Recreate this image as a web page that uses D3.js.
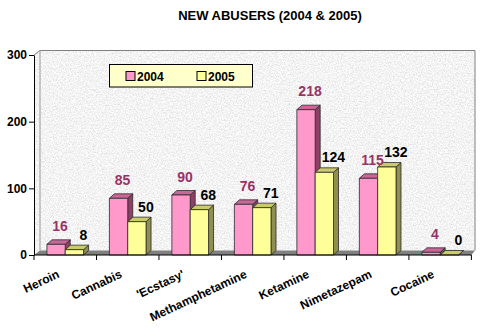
<!DOCTYPE html>
<html>
<head>
<meta charset="utf-8">
<script src="https://cdn.jsdelivr.net/npm/d3@7/dist/d3.min.js"></script>
<style>
  html, body { margin: 0; padding: 0; background: #fff; }
  svg { display: block; font-family: Arial, "Liberation Sans", sans-serif; }
</style>
</head>
<body>
<svg id="chart" width="485" height="329"></svg>
<script>
// Data: new abusers by drug, 2004 vs 2005
const categories = ["Heroin", "Cannabis", "'Ecstasy'", "Methamphetamine", "Ketamine", "Nimetazepam", "Cocaine"];
const series = ["2004", "2005"];
const values2004 = [16, 85, 90, 76, 218, 115, 4];
const values2005 = [8, 50, 68, 71, 124, 132, 0];
const yTicks = [0, 100, 200, 300];
const title = "NEW ABUSERS (2004 & 2005)";

const svg = d3.select("#chart");

// plot geometry
const pL = 34, pR = 471.4, pT = 55, pB = 255;
const wallDx = 6, wallDy = -4.5;   // depth of the back wall
const barDx = 5, barDy = -4.5;     // depth of each bar
const wallR = pR + 3.6;            // right edge of the back wall

const x = d3.scaleBand().domain(categories).range([pL, pR]).paddingInner(0).paddingOuter(0);
const xs = d3.scaleBand().domain(series).range([0, x.bandwidth()]).paddingInner(0).paddingOuter(0.705);
const y = d3.scaleLinear().domain([0, 300]).range([pB, pT]);

const colors = {
  "2004": { front: "#FF99CC", top: "#CC6699", side: "#8E3F66", label: "#993366" },
  "2005": { front: "#FFFF99", top: "#CCCC66", side: "#8F8F4F", label: "#000000" }
};

// granite texture for the walls
const defs = svg.append("defs");
const f = defs.append("filter").attr("id", "granite")
  .attr("x", 0).attr("y", 0).attr("width", "100%").attr("height", "100%");
f.append("feTurbulence").attr("type", "fractalNoise").attr("baseFrequency", 0.75)
  .attr("numOctaves", 3).attr("seed", 7).attr("result", "noise");
f.append("feColorMatrix").attr("in", "noise").attr("type", "matrix")
  .attr("values", "0.6 0 0 0 0.6  0.6 0 0 0 0.6  0.6 0 0 0 0.6  0 0 0 0 1")
  .attr("result", "grey");
f.append("feComposite").attr("in", "grey").attr("in2", "SourceGraphic").attr("operator", "in");

// title
svg.append("text").attr("x", 270).attr("y", 20).attr("text-anchor", "middle")
  .attr("font-size", 13).attr("font-weight", "bold").text(title);

// back wall
svg.append("rect")
  .attr("x", pL + wallDx).attr("y", pT + wallDy)
  .attr("width", wallR - pL - wallDx).attr("height", pB - pT)
  .attr("fill", "#ddd").attr("filter", "url(#granite)");
// left side wall
svg.append("path")
  .attr("d", `M${pL},${pT} L${pL + wallDx},${pT + wallDy} L${pL + wallDx},${pB + wallDy} L${pL},${pB} Z`)
  .attr("fill", "#ccc").attr("filter", "url(#granite)");
svg.append("path")
  .attr("d", `M${pL},${pT} L${pL + wallDx},${pT + wallDy} L${wallR},${pT + wallDy} L${wallR},${pB + wallDy}`)
  .attr("fill", "none").attr("stroke", "#808080").attr("stroke-width", 1);
svg.append("line")
  .attr("x1", pL + wallDx).attr("x2", pL + wallDx)
  .attr("y1", pT + wallDy).attr("y2", pB + wallDy)
  .attr("stroke", "#9a9a9a").attr("stroke-width", 1);
// floor
svg.append("path")
  .attr("d", `M${pL},${pB} L${pL + wallDx},${pB + wallDy} L${wallR},${pB + wallDy} L${pR},${pB} Z`)
  .attr("fill", "#808080");

// legend
const lg = svg.append("g");
lg.append("rect").attr("x", 109.5).attr("y", 64.5).attr("width", 143).attr("height", 22.5)
  .attr("fill", "#FFFFCC").attr("stroke", "#000").attr("stroke-width", 1);
series.forEach((s, i) => {
  const lx = 126 + i * 71;
  lg.append("rect").attr("x", lx).attr("y", 71.5).attr("width", 9).attr("height", 9)
    .attr("fill", colors[s].front).attr("stroke", "#000").attr("stroke-width", 1);
  lg.append("text").attr("x", lx + 11).attr("y", 81).attr("font-size", 12)
    .attr("font-weight", "bold").text(s);
});

// bars
const rows = categories.map((c, i) => ({ c, vals: { "2004": values2004[i], "2005": values2005[i] } }));
const barsG = svg.append("g");
rows.forEach(r => {
  series.forEach(s => {
    const v = r.vals[s];
    const x0 = x(r.c) + xs(s), w = xs.bandwidth();
    const y0 = y(v), yb = y(0);
    const g = barsG.append("g").attr("stroke", "#2a2a2a").attr("stroke-width", 0.8).attr("stroke-linejoin", "round");
    // side face
    g.append("path").attr("fill", colors[s].side)
      .attr("d", `M${x0 + w},${yb} L${x0 + w + barDx},${yb + barDy} L${x0 + w + barDx},${y0 + barDy} L${x0 + w},${y0} Z`);
    // top face
    g.append("path").attr("fill", colors[s].top)
      .attr("d", `M${x0},${y0} L${x0 + barDx},${y0 + barDy} L${x0 + w + barDx},${y0 + barDy} L${x0 + w},${y0} Z`);
    // front face
    if (v > 0) {
      g.append("rect").attr("x", x0).attr("y", y0).attr("width", w).attr("height", yb - y0)
        .attr("fill", colors[s].front);
    }
  });
});

// value labels
rows.forEach(r => {
  series.forEach(s => {
    const v = r.vals[s];
    const cx = x(r.c) + xs(s) + xs.bandwidth() / 2 + (s === "2004" ? 4 : 9);
    const by = y(v) - (s === "2004" ? 13.5 : 10);
    svg.append("text").attr("x", cx).attr("y", by).attr("text-anchor", "middle")
      .attr("font-size", 14).attr("font-weight", "bold").attr("fill", colors[s].label)
      .text(v);
  });
});

// y axis
const yAxis = d3.axisLeft(y).tickValues(yTicks).tickSize(5).tickPadding(2).tickSizeOuter(0);
const ya = svg.append("g").attr("transform", `translate(${pL},0)`).call(yAxis);
ya.select(".domain").attr("stroke", "#000");
ya.selectAll(".tick line").attr("stroke", "#000");
ya.selectAll(".tick text").attr("font-size", 12).attr("font-weight", "bold")
  .attr("font-family", "Arial, 'Liberation Sans', sans-serif").attr("fill", "#000");

// x axis: ticks at category boundaries
const xa = svg.append("g");
xa.append("line").attr("x1", pL).attr("x2", pR).attr("y1", pB).attr("y2", pB)
  .attr("stroke", "#000");
const bounds = categories.map(c => x(c)).concat([pR]);
xa.selectAll("line.tk").data(bounds).join("line").attr("class", "tk")
  .attr("x1", d => d).attr("x2", d => d).attr("y1", pB).attr("y2", pB + 5)
  .attr("stroke", "#000");
xa.selectAll("text").data(categories).join("text")
  .attr("text-anchor", "end").attr("font-size", 12).attr("font-weight", "bold")
  .attr("transform", d => `translate(${x(d) + x.bandwidth() / 2 - 5},277) rotate(-25)`)
  .text(d => d);
</script>
</body>
</html>
